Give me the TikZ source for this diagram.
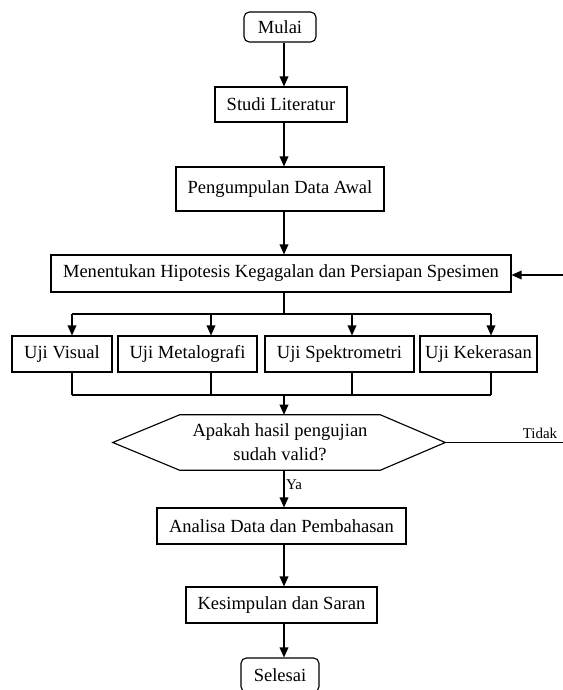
\documentclass[tikz,border=0pt]{standalone}
\usepackage{fontspec}
\setmainfont{Liberation Serif}
\usetikzlibrary{arrows.meta}
\begin{document}
\begin{tikzpicture}[x=0.75pt,y=-0.75pt,
  box/.style={draw, line width=0.85pt, inner sep=0pt, font=\fontsize{13.9}{16}\selectfont},
  term/.style={box, rounded corners=4pt},
  arr/.style={line width=1pt, -{Triangle[length=7.5pt,width=6.5pt]}},
  ln/.style={line width=0.85pt},
  lbl/.style={inner sep=1pt, font=\fontsize{11.2}{13}\selectfont}]
\useasboundingbox (0,0) rectangle (563,690);
\node[term, minimum width=72*0.75pt, minimum height=30*0.75pt] (mulai) at (280,27) {Mulai};
\node[box, minimum width=132*0.75pt, minimum height=35*0.75pt] (studi) at (281,104.5) {Studi Literatur};
\node[box, minimum width=208*0.75pt, minimum height=44*0.75pt] (peng) at (280,189) {Pengumpulan Data Awal};
\node[box, minimum width=460*0.75pt, minimum height=37*0.75pt] (hip) at (281,273.5) {Menentukan Hipotesis Kegagalan dan Persiapan Spesimen};
\node[box, minimum width=100*0.75pt, minimum height=36*0.75pt] (vis) at (62,354) {Uji Visual};
\node[box, minimum width=139*0.75pt, minimum height=36*0.75pt] (met) at (187.5,354) {Uji Metalografi};
\node[box, minimum width=149*0.75pt, minimum height=36*0.75pt] (spe) at (339.5,354) {Uji Spektrometri};
\node[box, minimum width=117*0.75pt, minimum height=36*0.75pt] (kek) at (478.5,354) {Uji Kekerasan};
\node[inner sep=0pt, minimum width=200*0.75pt, minimum height=55*0.75pt, align=center,
  font=\fontsize{13.9}{18}\selectfont] (dec) at (280,442.5) {Apakah hasil pengujian\\sudah valid?};
\draw[ln] (dec.north west) -- (dec.north east) -- ([shift={(65,0)}]dec.east) coordinate (decR)
  -- (dec.south east) -- (dec.south west) -- ([shift={(-67,0)}]dec.west) -- cycle;
\node[box, minimum width=249*0.75pt, minimum height=36*0.75pt] (ana) at (281.5,526) {Analisa Data dan Pembahasan};
\node[box, minimum width=191*0.75pt, minimum height=36*0.75pt] (kes) at (281.5,605) {Kesimpulan dan Saran};
\node[term, minimum width=78*0.75pt, minimum height=34*0.75pt] (sel) at (280,675) {Selesai};

\coordinate (sp) at (284,0);
\coordinate (bt) at (284,314);
\coordinate (bb) at (284,395);
\coordinate (c1) at (72,314);
\coordinate (c2) at (211,314);
\coordinate (c3) at (352,314);
\coordinate (c4) at (491,314);
\coordinate (rt1) at (563,443);
\coordinate (rt2) at (563,275);

\draw[arr] (mulai.south -| sp) -- (studi.north -| sp);
\draw[arr] (studi.south -| sp) -- (peng.north -| sp);
\draw[arr] (peng.south -| sp) -- (hip.north -| sp);
\draw[ln] (hip.south -| bt) -- (bt);
\draw[ln] (c1) -- (c4);
\foreach \c/\n in {c1/vis,c2/met,c3/spe,c4/kek}{
  \draw[arr] (\c) -- (\c |- \n.north);
  \draw[ln] (\c |- \n.south) -- (\c |- bb);
}
\draw[ln] (c1 |- bb) -- (c4 |- bb);
\draw[arr] (bb) -- (bb |- dec.north);
\draw[arr] (dec.south -| bb) -- node[lbl, anchor=west, pos=0.4] (ya) {Ya} (ana.north -| bb);
\draw[arr] (ana.south -| sp) -- (kes.north -| sp);
\draw[arr] (kes.south -| sp) -- (sel.north -| sp);
\draw[ln] (decR) -- (decR -| rt1);
\node[lbl] (tidak) at (540,433) {Tidak};
\draw[arr] (rt2) -- (rt2 -| hip.east);
\end{tikzpicture}
\end{document}
